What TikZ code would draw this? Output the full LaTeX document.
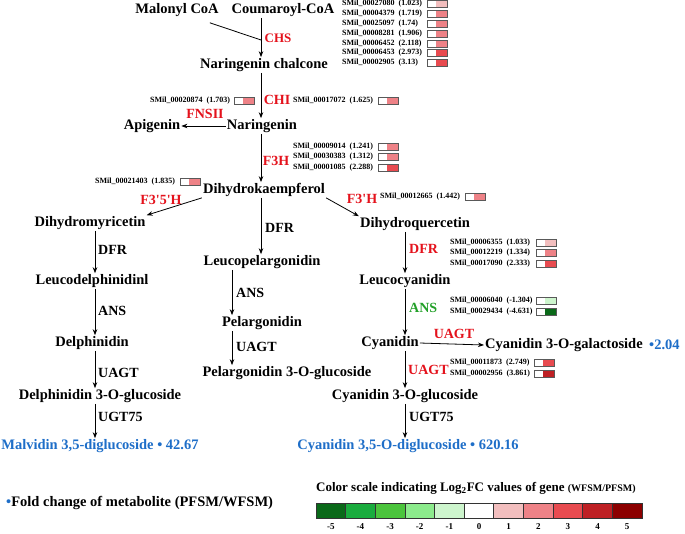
\documentclass[tikz,border=0pt]{standalone}
\usepackage{fontspec}
\setmainfont{Liberation Serif}
\usetikzlibrary{arrows.meta}
\definecolor{enz}{RGB}{228,18,28}
\definecolor{ansg}{RGB}{34,160,40}
\definecolor{met}{RGB}{30,110,200}
\definecolor{cmA}{RGB}{10,105,25}
\definecolor{cmB}{RGB}{26,172,62}
\definecolor{cmC}{RGB}{75,196,60}
\definecolor{cmD}{RGB}{140,235,140}
\definecolor{cmE}{RGB}{205,245,205}
\definecolor{cz}{RGB}{255,255,255}
\definecolor{cpA}{RGB}{242,190,190}
\definecolor{cpB}{RGB}{238,130,135}
\definecolor{cpC}{RGB}{232,75,80}
\definecolor{cpD}{RGB}{190,32,36}
\definecolor{cpE}{RGB}{140,0,0}
\tikzset{
  metab/.style={font=\fontsize{14.5}{16}\selectfont\bfseries, inner sep=1pt},
  blue metab/.style={metab, text=met},
  enzr/.style={font=\fontsize{14}{16}\selectfont\bfseries, text=enz, inner sep=0pt},
  enzk/.style={font=\fontsize{14}{16}\selectfont\bfseries, inner sep=0pt},
  gtext/.style={font=\fontsize{8}{9}\selectfont\bfseries, anchor=west, inner sep=0pt},
  arr/.style={-{Stealth[length=6pt,width=4.5pt]}, line width=0.8pt},
  plainline/.style={line width=0.8pt},
  gbox/.style={draw=black!65, line width=0.5pt},
  cell/.style={draw=black!80, line width=0.8pt},
}
\newcommand\gene[6]{%
  \node[gtext] (#1) at (#2,#3) {#5};
  \fill[#6] (#4+9,#3-3.5) rectangle (#4+20,#3+3.5);
  \draw[gbox] (#4,#3-3.5) rectangle (#4+20,#3+3.5);
}
\begin{document}
\begin{tikzpicture}[x=1pt,y=-1pt]
\useasboundingbox (0,0) rectangle (685,533);
\clip (0,0) rectangle (685,533);
% metabolites
\node[metab] (mal) at (177,10) {Malonyl CoA};
\node[metab] (cou) at (283,10) {Coumaroyl-CoA};
\node[metab] (chal) at (264,65) {Naringenin chalcone};
\node[metab] (nar) at (262,126) {Naringenin};
\node[metab] (api) at (152,126) {Apigenin};
\node[metab] (dhk) at (264,190) {Dihydrokaempferol};
\node[metab] (dhm) at (90,223) {Dihydromyricetin};
\node[metab] (dhq) at (415,224) {Dihydroquercetin};
\node[metab] (leud) at (92,281) {Leucodelphinidinl};
\node[metab] (leup) at (262,262) {Leucopelargonidin};
\node[metab] (leuc) at (405,281) {Leucocyanidin};
\node[metab] (del) at (92,343) {Delphinidin};
\node[metab] (pel) at (262,323) {Pelargonidin};
\node[metab] (cya) at (390,343) {Cyanidin};
\node[metab, anchor=west] (cgal) at (484,345) {Cyanidin 3-O-galactoside};
\node[blue metab, anchor=west] (fcgal) at (648,345) {•2.04};
\node[metab] (d3g) at (100,396) {Delphinidin 3-O-glucoside};
\node[metab] (p3g) at (287,373) {Pelargonidin 3-O-glucoside};
\node[metab] (c3g) at (405,396) {Cyanidin 3-O-glucoside};
\node[blue metab] (mal35) at (100,446) {Malvidin 3,5-diglucoside • 42.67};
\node[blue metab] (c35) at (408,446) {Cyanidin 3,5-O-diglucoside • 620.16};
% connectors
\coordinate (j) at (261,40);
\coordinate (xl) at (95,0);
\coordinate (xm) at (232,0);
\coordinate (xr) at (405,0);
\draw[plainline] ([xshift=-10pt,yshift=-5pt]mal.south east) -- (j);
\draw[arr] (cou.south -| j) -- (chal.north -| j);
\draw[arr] (chal.south -| j) -- (nar.north -| j);
\draw[arr] (nar.west) -- (api.east);
\draw[arr] (nar.south -| j) -- (dhk.north -| j);
\draw[arr] (dhk.south west) -- (dhm.north east);
\draw[arr] (dhk.south east) -- (dhq.north west);
\draw[arr] (dhk.south -| j) -- (leup.north -| j);
\draw[arr] (dhm.south -| xl) -- (leud.north -| xl);
\draw[arr] (leud.south -| xl) -- (del.north -| xl);
\draw[arr] (del.south -| xl) -- (d3g.north -| xl);
\draw[arr] (d3g.south -| xl) -- (mal35.north -| xl);
\draw[arr] (leup.south -| xm) -- (pel.north -| xm);
\draw[arr] (pel.south -| xm) -- (p3g.north -| xm);
\draw[arr] (dhq.south -| xr) -- (leuc.north -| xr);
\draw[arr] (leuc.south -| xr) -- (cya.north -| xr);
\draw[arr] (cya.south -| xr) -- (c3g.north -| xr);
\draw[arr] (c3g.south -| xr) -- (c35.north -| xr);
\draw[arr] (cya.east) -- (cgal.west);
% enzymes
\node[enzr, font=\fontsize{13}{15}\selectfont\bfseries] (chs) at (278,38) {CHS};
\node[enzr] (chi) at (277,100) {CHI};
\node[enzr] (fns) at (205,114) {FNSII};
\node[enzr] (f3h) at (276,161) {F3H};
\node[enzr] (f35h) at (161,200) {F3\textquotesingle5\textquotesingle H};
\node[enzr] (f3ph) at (362,199) {F3\textquotesingle H};
\node[enzk, anchor=west] (dfrl) at (98,250) {DFR};
\node[enzk, anchor=west] (ansl) at (98,311) {ANS};
\node[enzk, anchor=west] (uagtl) at (98,373) {UAGT};
\node[enzk, anchor=west] (ugtl) at (98,417) {UGT75};
\node[enzk, anchor=west] (dfrm) at (265,228) {DFR};
\node[enzk, anchor=west] (ansm) at (236,293) {ANS};
\node[enzk, anchor=west] (uagtm) at (236,347) {UAGT};
\node[enzr, anchor=west] (dfrr) at (409,249) {DFR};
\node[enzr, anchor=west, text=ansg] (ansr) at (409,308) {ANS};
\node[enzr] (uagth) at (454,334) {UAGT};
\node[enzr, anchor=west] (uagtr) at (408,370) {UAGT};
\node[enzk, anchor=west] (ugtr) at (409,417) {UGT75};
% genes
\gene{g1}{342}{4}{427}{SMil\_00027080~~(1.023)}{cpA}
\gene{g2}{342}{14}{427}{SMil\_00004379~~(1.719)}{cpB}
\gene{g3}{342}{24}{427}{SMil\_00025097~~(1.74)}{cpB}
\gene{g4}{342}{34}{427}{SMil\_00008281~~(1.906)}{cpB}
\gene{g5}{342}{44}{427}{SMil\_00006452~~(2.118)}{cpB}
\gene{g6}{342}{53}{427}{SMil\_00006453~~(2.973)}{cpC}
\gene{g7}{342}{63}{427}{SMil\_00002905~~(3.13)}{cpC}
\gene{g8}{150}{101}{234}{SMil\_00020874~~(1.703)}{cpB}
\gene{g9}{293}{101}{378}{SMil\_00017072~~(1.625)}{cpB}
\gene{g10}{293}{147}{378}{SMil\_00009014~~(1.241)}{cpB}
\gene{g11}{293}{157}{378}{SMil\_00030383~~(1.312)}{cpB}
\gene{g12}{293}{168}{378}{SMil\_00001085~~(2.288)}{cpC}
\gene{g13}{95}{182}{180}{SMil\_00021403~~(1.835)}{cpB}
\gene{g14}{380}{197}{465}{SMil\_00012665~~(1.442)}{cpB}
\gene{g15}{450}{243}{536}{SMil\_00006355~~(1.033)}{cpA}
\gene{g16}{450}{253}{536}{SMil\_00012219~~(1.334)}{cpB}
\gene{g17}{450}{264}{536}{SMil\_00017090~~(2.333)}{cpC}
\gene{g18}{450}{301}{536}{SMil\_00006040~~(-1.304)}{cmE}
\gene{g19}{450}{312}{536}{SMil\_00029434~~(-4.631)}{cmA}
\gene{g20}{450}{363}{534}{SMil\_00011873~~(2.749)}{cpC}
\gene{g21}{450}{374}{534}{SMil\_00002956~~(3.861)}{cpD}
% legends
\node[metab, anchor=west, font=\fontsize{14.5}{16}\selectfont\bfseries] (leg1) at (5,503) {\textcolor{met}{•}Fold change of metabolite (PFSM/WFSM)};
\node[metab, anchor=west, font=\fontsize{13}{15}\selectfont\bfseries] (leg2) at (315,488) {Color scale indicating Log\textsubscript{2}FC values of gene {\fontsize{10}{12}\selectfont (WFSM/PFSM)}};
\foreach \i/\c/\t in {0/cmA/-5,1/cmB/-4,2/cmC/-3,3/cmD/-2,4/cmE/-1,5/cz/0,6/cpA/1,7/cpB/2,8/cpC/3,9/cpD/4,10/cpE/5}{
  \draw[cell, fill=\c] (316+29.64*\i,503) rectangle (316+29.64*\i+29.64,518);
  \node[font=\fontsize{9}{11}\selectfont\bfseries, inner sep=0pt] (lab\i) at (316+29.64*\i+14.82,527) {\t};
}
\end{tikzpicture}
\end{document}
